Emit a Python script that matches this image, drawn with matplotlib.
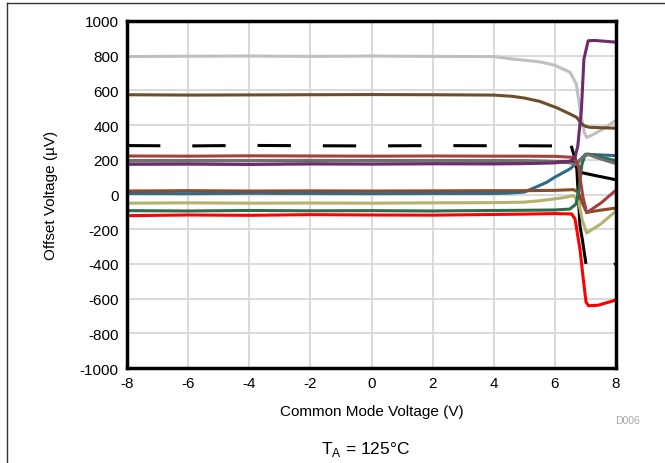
import numpy as np
import matplotlib.pyplot as plt
from matplotlib.lines import Line2D

plt.rcParams['font.family'] = ['Liberation Sans', 'DejaVu Sans']
plt.rcParams['lines.scale_dashes'] = False
plt.rcParams['axes.unicode_minus'] = False

# common mode voltage (V) and offset voltage (uV)
x_flat = [-8, -6, -4, -2, 0, 2, 4]

x_gray_lt = x_flat + [4.6, 5.5, 6.0, 6.5, 6.7, 6.8, 6.88, 6.96, 7.04, 7.3, 7.6, 8.0]
y_gray_lt = [795, 797, 798, 796, 798, 796, 795, 781, 765, 745, 704, 637, 520, 435, 360, 328, 350, 380, 428]

x_brown = x_flat + [4.6, 5.0, 5.5, 6.06, 6.4, 6.71, 6.88, 7.0, 7.15, 8.0]
y_brown = [575, 573, 574, 575, 576, 575, 573, 566, 556, 537, 500, 472, 445, 406, 393, 387, 382]

x_dash = x_flat + [5.0, 6.0, 6.55]
y_dash = [282, 280, 283, 281, 280, 282, 281, 281, 280, 272]
x_drop = [6.55, 6.71, 6.82, 6.9, 7.01]
y_drop = [272, 176, -180, -260, -391]
x_dash_end = [7.98, 8.0]
y_dash_end = [-400, -405]

x_black = x_flat + [5.0, 6.0, 6.6, 6.71, 6.8, 6.93, 7.3, 8.0]
y_black = [194, 194, 195, 194, 195, 194, 193, 192, 190, 185, 157, 128, 124, 110, 85]

x_redbrown = x_flat + [5.0, 6.0, 6.61, 6.77, 6.91, 7.04, 7.5, 8.0]
y_redbrown = [222, 221, 223, 222, 221, 222, 221, 221, 220, 214, 166, -7, -105, -50, 25]

x_purple = x_flat + [5.0, 6.0, 6.5, 6.66, 6.75, 6.87, 6.95, 7.09, 7.3, 8.0]
y_purple = [174, 175, 173, 176, 175, 177, 176, 178, 182, 192, 214, 280, 493, 780, 886, 888, 878]

x_gray_dk = x_flat + [5.0, 6.0, 6.5, 6.71, 6.88, 7.04, 7.5, 8.0]
y_gray_dk = [196, 195, 196, 197, 195, 196, 195, 194, 190, 182, 172, 210, 233, 205, 178]

x_blue = x_flat + [4.5, 5.0, 5.5, 5.73, 6.0, 6.49, 6.8, 7.0, 7.5, 8.0]
y_blue = [6, 5, 7, 6, 5, 6, 6, 8, 14, 52, 70, 100, 147, 195, 232, 228, 224]

x_sienna = x_flat + [5.0, 6.0, 6.61, 6.77, 6.9, 7.04, 7.5, 8.0]
y_sienna = [20, 22, 20, 21, 20, 21, 22, 22, 24, 28, 13, -50, -103, -90, -78]

x_khaki = x_flat + [5.0, 5.5, 6.3, 6.61, 6.77, 6.9, 7.04, 7.5, 8.0]
y_khaki = [-50, -48, -50, -49, -50, -48, -47, -44, -36, -18, -7, -36, -150, -222, -170, -95]

x_green = x_flat + [5.0, 6.0, 6.49, 6.69, 6.78, 6.88, 6.97, 7.1, 7.5, 8.0]
y_green = [-93, -95, -92, -94, -93, -95, -92, -91, -89, -84, -55, 20, 170, 220, 233, 215, 195]

x_red = x_flat + [5.0, 6.0, 6.55, 6.66, 6.82, 6.93, 7.02, 7.1, 7.42, 8.0]
y_red = [-122, -118, -120, -116, -118, -119, -115, -113, -110, -112, -141, -314, -487, -620, -641, -638, -608]

fig = plt.figure(figsize=(6.65, 4.64), dpi=100)
ax = fig.add_axes([0.191, 0.2047, 0.7353, 0.7479])

lw = 2.2
ax.plot(x_gray_lt, y_gray_lt, color='#bfbfbf', lw=lw)
ax.plot(x_brown, y_brown, color='#6e4e2a', lw=lw)
ax.plot(x_dash, y_dash, color='black', lw=lw, dashes=(24, 23))
ax.plot(x_drop, y_drop, color='black', lw=lw)
ax.plot(x_dash_end, y_dash_end, color='black', lw=lw)
ax.plot(x_black, y_black, color='black', lw=lw)
ax.plot(x_blue, y_blue, color='#2f6a88', lw=lw)
ax.plot(x_sienna, y_sienna, color='#8b4a28', lw=lw)
ax.plot(x_khaki, y_khaki, color='#b4b36e', lw=lw)
ax.plot(x_green, y_green, color='#2c6e4c', lw=lw)
ax.plot(x_red, y_red, color='#ff0000', lw=lw)
ax.plot(x_gray_dk, y_gray_dk, color='#707070', lw=lw)
ax.plot(x_redbrown, y_redbrown, color='#a2423e', lw=lw)
ax.plot(x_purple, y_purple, color='#6d2b6b', lw=lw)

ax.set_xlim(-8, 8)
ax.set_ylim(-1000, 1000)
ax.set_xticks(np.arange(-8, 9, 2))
ax.set_yticks(np.arange(-1000, 1001, 200))
ax.grid(True, color='#d9d9d9', lw=1.4)
ax.set_axisbelow(True)
ax.tick_params(length=0, labelsize=11, pad=6)
for s in ax.spines.values():
    s.set_linewidth(2.5)

ax.set_xlabel('Common Mode Voltage (V)', fontsize=11, labelpad=0)
ax.xaxis.set_label_coords(0.5, -0.103)
ax.set_ylabel('Offset Voltage (µV)', fontsize=11)
ax.yaxis.set_label_coords(-0.142, 0.5)

fig.text(365 / 665, 1 - 450 / 464, r'T$_\mathregular{A}$ = 125°C', fontsize=12.5,
         ha='center', va='center')
fig.text(628 / 665, 1 - 421 / 464, 'D006', fontsize=7.5, color='#a6a6a6',
         ha='center', va='center')

# outer frame (top and left edges visible)
fig.add_artist(Line2D([7 / 665, 1.0], [1 - 4 / 464, 1 - 4 / 464], color='#333333',
                      lw=1, transform=fig.transFigure))
fig.add_artist(Line2D([7 / 665, 7 / 665], [1 - 4 / 464, 0.0], color='#333333',
                      lw=1, transform=fig.transFigure))

fig.savefig('out.png', dpi=100)
